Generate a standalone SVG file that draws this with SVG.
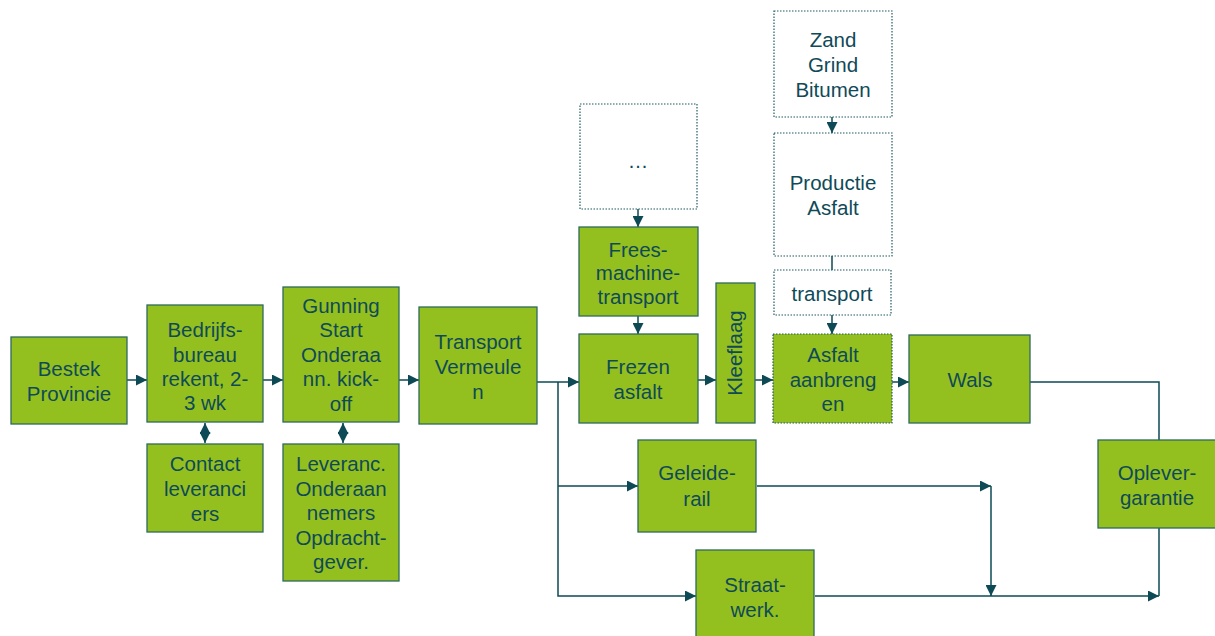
<svg xmlns="http://www.w3.org/2000/svg" width="1215" height="636" viewBox="0 0 1215 636">
  <defs>
    <marker id="arrow" viewBox="0 0 10 10" refX="10" refY="5" markerWidth="11" markerHeight="11" markerUnits="userSpaceOnUse" orient="auto-start-reverse">
      <path d="M0,0 L10,5 L0,10 Z" fill="#0d4a56"/>
    </marker>
    <style>
      .box { fill: #94c01f; stroke: #2f6a5c; stroke-width: 1.3; }
      .dot { fill: #ffffff; stroke: #1f5a60; stroke-width: 1.2; stroke-dasharray: 1.5 1.5; }
      .dotg { fill: #94c01f; stroke: #1f5a60; stroke-width: 1.2; stroke-dasharray: 1.5 1.5; }
      .lbl { font-family: "Liberation Sans", Arial, sans-serif; font-size: 20.5px; fill: #0f4a58; text-anchor: middle; }
      .conn path { fill: none; stroke: #0d4a56; stroke-width: 1.5; }
    </style>
  </defs>

  <!-- connectors -->
  <g id="connectors" class="conn">
    <path d="M127 380 H147" marker-end="url(#arrow)"/>
    <path d="M263 380 H283" marker-end="url(#arrow)"/>
    <path d="M399 380 H419" marker-end="url(#arrow)"/>
    <path d="M205 423 V443" marker-start="url(#arrow)" marker-end="url(#arrow)"/>
    <path d="M343 423 V443" marker-start="url(#arrow)" marker-end="url(#arrow)"/>
    <path d="M537 382 H579" marker-end="url(#arrow)"/>
    <path d="M558 382 V596 H696" marker-end="url(#arrow)"/>
    <path d="M558 486 H638" marker-end="url(#arrow)"/>
    <path d="M638 209 V227" marker-end="url(#arrow)"/>
    <path d="M638 316 V334" marker-end="url(#arrow)"/>
    <path d="M698 380 H716" marker-end="url(#arrow)"/>
    <path d="M755 380 H773" marker-end="url(#arrow)"/>
    <path d="M832 117 V133" marker-end="url(#arrow)"/>
    <path d="M832 256 V270"/>
    <path d="M832 315 V334" marker-end="url(#arrow)"/>
    <path d="M892 382 H909" marker-end="url(#arrow)"/>
    <path d="M1030 382 H1159 V440"/>
    <path d="M757 486 H991" marker-end="url(#arrow)"/>
    <path d="M991 486 V596" marker-end="url(#arrow)"/>
    <path d="M815 596 H1159" marker-end="url(#arrow)"/>
    <path d="M1159 528 V596"/>
  </g>

  <g id="bestek">
    <rect class="box" x="11" y="337" width="116" height="87"/>
    <text class="lbl"><tspan x="69" y="376">Bestek</tspan><tspan x="69" y="401">Provincie</tspan></text>
  </g>

  <g id="bedrijfsbureau">
    <rect class="box" x="147" y="305" width="116" height="117"/>
    <text class="lbl"><tspan x="205" y="337">Bedrijfs-</tspan><tspan x="205" y="362">bureau</tspan><tspan x="205" y="386">rekent, 2-</tspan><tspan x="205" y="410">3 wk</tspan></text>
  </g>

  <g id="contact">
    <rect class="box" x="147" y="444" width="116" height="88"/>
    <text class="lbl"><tspan x="205" y="471">Contact</tspan><tspan x="205" y="496">leveranci</tspan><tspan x="205" y="521">ers</tspan></text>
  </g>

  <g id="gunning">
    <rect class="box" x="283" y="287" width="116" height="135"/>
    <text class="lbl"><tspan x="341" y="313">Gunning</tspan><tspan x="341" y="337">Start</tspan><tspan x="341" y="362">Onderaa</tspan><tspan x="341" y="386">nn. kick-</tspan><tspan x="341" y="411">off</tspan></text>
  </g>

  <g id="leveranc">
    <rect class="box" x="283" y="444" width="116" height="137"/>
    <text class="lbl"><tspan x="341" y="471">Leveranc.</tspan><tspan x="341" y="496">Onderaan</tspan><tspan x="341" y="520">nemers</tspan><tspan x="341" y="545">Opdracht-</tspan><tspan x="341" y="569">gever.</tspan></text>
  </g>

  <g id="transport-vermeulen">
    <rect class="box" x="419" y="307" width="118" height="117"/>
    <text class="lbl"><tspan x="478" y="349">Transport</tspan><tspan x="478" y="374">Vermeule</tspan><tspan x="478" y="399">n</tspan></text>
  </g>

  <g id="dots">
    <rect class="dot" x="580" y="104" width="117" height="105"/>
    <text class="lbl" x="638" y="168">…</text>
  </g>

  <g id="freesmachine">
    <rect class="box" x="579" y="227" width="119" height="89"/>
    <text class="lbl"><tspan x="638" y="257">Frees-</tspan><tspan x="638" y="280">machine-</tspan><tspan x="638" y="304">transport</tspan></text>
  </g>

  <g id="frezen">
    <rect class="box" x="579" y="334" width="119" height="89"/>
    <text class="lbl"><tspan x="638" y="374">Frezen</tspan><tspan x="638" y="399">asfalt</tspan></text>
  </g>

  <g id="kleeflaag">
    <rect class="box" x="716" y="283" width="39" height="140"/>
    <text class="lbl" transform="translate(742 353) rotate(-90)" x="0" y="0">Kleeflaag</text>
  </g>

  <g id="zand">
    <rect class="dot" x="774" y="11" width="118" height="106"/>
    <text class="lbl"><tspan x="833" y="47">Zand</tspan><tspan x="833" y="72">Grind</tspan><tspan x="833" y="97">Bitumen</tspan></text>
  </g>

  <g id="productie">
    <rect class="dot" x="774" y="133" width="118" height="123"/>
    <text class="lbl"><tspan x="833" y="190">Productie</tspan><tspan x="833" y="215">Asfalt</tspan></text>
  </g>

  <g id="transport-asfalt">
    <rect class="dot" x="774" y="270" width="117" height="45"/>
    <text class="lbl" x="832" y="301">transport</text>
  </g>

  <g id="asfalt-aanbrengen">
    <rect class="dotg" x="773" y="334" width="119" height="89"/>
    <text class="lbl"><tspan x="833" y="362">Asfalt</tspan><tspan x="833" y="387">aanbreng</tspan><tspan x="833" y="411">en</tspan></text>
  </g>

  <g id="wals">
    <rect class="box" x="909" y="335" width="121" height="88"/>
    <text class="lbl" x="970" y="387">Wals</text>
  </g>

  <g id="geleiderail">
    <rect class="box" x="638" y="440" width="118" height="92"/>
    <text class="lbl"><tspan x="697" y="480">Geleide-</tspan><tspan x="697" y="506">rail</tspan></text>
  </g>

  <g id="straatwerk">
    <rect class="box" x="696" y="550" width="118" height="95"/>
    <text class="lbl"><tspan x="755" y="592">Straat-</tspan><tspan x="755" y="617">werk.</tspan></text>
  </g>

  <g id="oplevergarantie">
    <rect class="box" x="1098" y="440" width="125" height="88"/>
    <text class="lbl"><tspan x="1157" y="480">Oplever-</tspan><tspan x="1157" y="505">garantie</tspan></text>
  </g>
</svg>
